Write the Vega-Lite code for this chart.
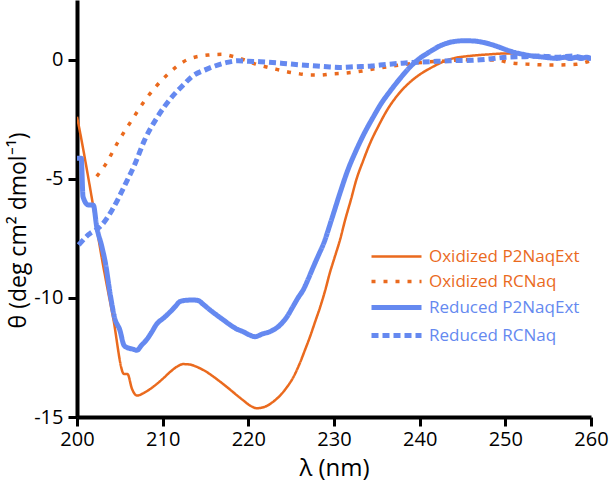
{
  "$schema": "https://vega.github.io/schema/vega-lite/v6.json",
  "width": 514,
  "height": 417,
  "autosize": {"type": "none"},
  "padding": {"left": 77, "top": 0, "right": 18, "bottom": 65},
  "background": "white",
  "config": {
    "view": {"stroke": null},
    "font": "Open Sans",
    "axis": {
      "grid": false,
      "domainColor": "black",
      "domainWidth": 4,
      "tickColor": "black",
      "tickWidth": 3,
      "tickSize": 9,
      "labelColor": "black",
      "labelFontSize": 20,
      "labelFont": "Open Sans",
      "labelFlush": false,
      "titleFont": "Open Sans",
      "titleFontSize": 22,
      "titleFontWeight": "normal",
      "titleColor": "black"
    }
  },
  "datasets": {
    "cd": [
      {"s": "Oxidized P2NaqExt", "x": 200, "y": -2.4},
      {"s": "Oxidized P2NaqExt", "x": 200.15, "y": -2.67},
      {"s": "Oxidized P2NaqExt", "x": 201.5, "y": -5.33},
      {"s": "Oxidized P2NaqExt", "x": 202.9, "y": -8.34},
      {"s": "Oxidized P2NaqExt", "x": 204.2, "y": -10.8},
      {"s": "Oxidized P2NaqExt", "x": 205.5, "y": -13.2},
      {"s": "Oxidized P2NaqExt", "x": 205.9, "y": -13.2},
      {"s": "Oxidized P2NaqExt", "x": 206.4, "y": -13.8},
      {"s": "Oxidized P2NaqExt", "x": 207.0, "y": -14.1},
      {"s": "Oxidized P2NaqExt", "x": 208.0, "y": -13.95},
      {"s": "Oxidized P2NaqExt", "x": 208.9, "y": -13.73},
      {"s": "Oxidized P2NaqExt", "x": 210.0, "y": -13.4},
      {"s": "Oxidized P2NaqExt", "x": 210.9, "y": -13.1},
      {"s": "Oxidized P2NaqExt", "x": 211.7, "y": -12.88},
      {"s": "Oxidized P2NaqExt", "x": 212.4, "y": -12.78},
      {"s": "Oxidized P2NaqExt", "x": 213.2, "y": -12.8},
      {"s": "Oxidized P2NaqExt", "x": 214.0, "y": -12.9},
      {"s": "Oxidized P2NaqExt", "x": 215.0, "y": -13.08},
      {"s": "Oxidized P2NaqExt", "x": 215.9, "y": -13.3},
      {"s": "Oxidized P2NaqExt", "x": 217.0, "y": -13.6},
      {"s": "Oxidized P2NaqExt", "x": 217.9, "y": -13.86},
      {"s": "Oxidized P2NaqExt", "x": 218.7, "y": -14.1},
      {"s": "Oxidized P2NaqExt", "x": 219.4, "y": -14.3},
      {"s": "Oxidized P2NaqExt", "x": 220.2, "y": -14.52},
      {"s": "Oxidized P2NaqExt", "x": 221.0, "y": -14.63},
      {"s": "Oxidized P2NaqExt", "x": 222.0, "y": -14.56},
      {"s": "Oxidized P2NaqExt", "x": 222.9, "y": -14.36},
      {"s": "Oxidized P2NaqExt", "x": 223.7, "y": -14.1},
      {"s": "Oxidized P2NaqExt", "x": 224.5, "y": -13.75},
      {"s": "Oxidized P2NaqExt", "x": 225.3, "y": -13.3},
      {"s": "Oxidized P2NaqExt", "x": 226.0, "y": -12.75},
      {"s": "Oxidized P2NaqExt", "x": 226.6, "y": -12.2},
      {"s": "Oxidized P2NaqExt", "x": 227.2, "y": -11.63},
      {"s": "Oxidized P2NaqExt", "x": 227.8, "y": -11.0},
      {"s": "Oxidized P2NaqExt", "x": 228.4, "y": -10.37},
      {"s": "Oxidized P2NaqExt", "x": 229.0, "y": -9.65},
      {"s": "Oxidized P2NaqExt", "x": 229.5, "y": -8.97},
      {"s": "Oxidized P2NaqExt", "x": 230.1, "y": -8.27},
      {"s": "Oxidized P2NaqExt", "x": 230.7, "y": -7.57},
      {"s": "Oxidized P2NaqExt", "x": 231.3, "y": -6.73},
      {"s": "Oxidized P2NaqExt", "x": 232.0, "y": -5.85},
      {"s": "Oxidized P2NaqExt", "x": 232.6, "y": -5.05},
      {"s": "Oxidized P2NaqExt", "x": 233.4, "y": -4.25},
      {"s": "Oxidized P2NaqExt", "x": 234.2, "y": -3.52},
      {"s": "Oxidized P2NaqExt", "x": 235.2, "y": -2.78},
      {"s": "Oxidized P2NaqExt", "x": 236.2, "y": -2.12},
      {"s": "Oxidized P2NaqExt", "x": 237.3, "y": -1.55},
      {"s": "Oxidized P2NaqExt", "x": 238.5, "y": -1.07},
      {"s": "Oxidized P2NaqExt", "x": 239.8, "y": -0.68},
      {"s": "Oxidized P2NaqExt", "x": 241.2, "y": -0.37},
      {"s": "Oxidized P2NaqExt", "x": 242.5, "y": -0.13},
      {"s": "Oxidized P2NaqExt", "x": 243.9, "y": 0.05},
      {"s": "Oxidized P2NaqExt", "x": 245.5, "y": 0.14},
      {"s": "Oxidized P2NaqExt", "x": 247.0, "y": 0.19},
      {"s": "Oxidized P2NaqExt", "x": 248.6, "y": 0.23},
      {"s": "Oxidized P2NaqExt", "x": 250.2, "y": 0.26},
      {"s": "Oxidized P2NaqExt", "x": 251.8, "y": 0.22},
      {"s": "Oxidized P2NaqExt", "x": 253.3, "y": 0.15},
      {"s": "Oxidized P2NaqExt", "x": 255.6, "y": 0.09},
      {"s": "Oxidized P2NaqExt", "x": 257.9, "y": 0.05},
      {"s": "Oxidized P2NaqExt", "x": 260, "y": 0.05},

      {"s": "Oxidized RCNaq", "x": 202.3, "y": -4.9},
      {"s": "Oxidized RCNaq", "x": 203.3, "y": -4.42},
      {"s": "Oxidized RCNaq", "x": 204.8, "y": -3.45},
      {"s": "Oxidized RCNaq", "x": 206.4, "y": -2.54},
      {"s": "Oxidized RCNaq", "x": 208.1, "y": -1.63},
      {"s": "Oxidized RCNaq", "x": 210.3, "y": -0.72},
      {"s": "Oxidized RCNaq", "x": 212.8, "y": -0.02},
      {"s": "Oxidized RCNaq", "x": 215.3, "y": 0.19},
      {"s": "Oxidized RCNaq", "x": 216.9, "y": 0.22},
      {"s": "Oxidized RCNaq", "x": 218.3, "y": 0.12},
      {"s": "Oxidized RCNaq", "x": 219.6, "y": -0.02},
      {"s": "Oxidized RCNaq", "x": 220.6, "y": -0.16},
      {"s": "Oxidized RCNaq", "x": 222.0, "y": -0.3},
      {"s": "Oxidized RCNaq", "x": 223.3, "y": -0.41},
      {"s": "Oxidized RCNaq", "x": 224.5, "y": -0.51},
      {"s": "Oxidized RCNaq", "x": 226.0, "y": -0.6},
      {"s": "Oxidized RCNaq", "x": 227.2, "y": -0.65},
      {"s": "Oxidized RCNaq", "x": 228.4, "y": -0.65},
      {"s": "Oxidized RCNaq", "x": 229.7, "y": -0.6},
      {"s": "Oxidized RCNaq", "x": 231.5, "y": -0.56},
      {"s": "Oxidized RCNaq", "x": 233.3, "y": -0.48},
      {"s": "Oxidized RCNaq", "x": 235.0, "y": -0.37},
      {"s": "Oxidized RCNaq", "x": 237.7, "y": -0.23},
      {"s": "Oxidized RCNaq", "x": 241.2, "y": -0.09},
      {"s": "Oxidized RCNaq", "x": 243.5, "y": -0.05},
      {"s": "Oxidized RCNaq", "x": 245.1, "y": 0.0},
      {"s": "Oxidized RCNaq", "x": 246.2, "y": -0.02},
      {"s": "Oxidized RCNaq", "x": 249.0, "y": -0.02},
      {"s": "Oxidized RCNaq", "x": 250.5, "y": -0.13},
      {"s": "Oxidized RCNaq", "x": 252.9, "y": -0.2},
      {"s": "Oxidized RCNaq", "x": 255.6, "y": -0.23},
      {"s": "Oxidized RCNaq", "x": 258.3, "y": -0.2},
      {"s": "Oxidized RCNaq", "x": 259.6, "y": -0.09},
      {"s": "Oxidized RCNaq", "x": 260, "y": -0.05},

      {"s": "Reduced P2NaqExt", "x": 200.0, "y": -4.14},
      {"s": "Reduced P2NaqExt", "x": 200.5, "y": -4.14},
      {"s": "Reduced P2NaqExt", "x": 200.7, "y": -5.75},
      {"s": "Reduced P2NaqExt", "x": 201.3, "y": -6.1},
      {"s": "Reduced P2NaqExt", "x": 201.9, "y": -6.1},
      {"s": "Reduced P2NaqExt", "x": 202.3, "y": -7.01},
      {"s": "Reduced P2NaqExt", "x": 202.9, "y": -7.85},
      {"s": "Reduced P2NaqExt", "x": 203.3, "y": -8.5},
      {"s": "Reduced P2NaqExt", "x": 203.9, "y": -9.9},
      {"s": "Reduced P2NaqExt", "x": 204.4, "y": -10.85},
      {"s": "Reduced P2NaqExt", "x": 205.0, "y": -11.35},
      {"s": "Reduced P2NaqExt", "x": 205.5, "y": -12.0},
      {"s": "Reduced P2NaqExt", "x": 205.95, "y": -12.1},
      {"s": "Reduced P2NaqExt", "x": 206.5, "y": -12.15},
      {"s": "Reduced P2NaqExt", "x": 207.0, "y": -12.2},
      {"s": "Reduced P2NaqExt", "x": 207.5, "y": -12.0},
      {"s": "Reduced P2NaqExt", "x": 208.1, "y": -11.77},
      {"s": "Reduced P2NaqExt", "x": 208.7, "y": -11.45},
      {"s": "Reduced P2NaqExt", "x": 209.3, "y": -11.1},
      {"s": "Reduced P2NaqExt", "x": 210.1, "y": -10.85},
      {"s": "Reduced P2NaqExt", "x": 210.9, "y": -10.58},
      {"s": "Reduced P2NaqExt", "x": 211.5, "y": -10.35},
      {"s": "Reduced P2NaqExt", "x": 212.0, "y": -10.16},
      {"s": "Reduced P2NaqExt", "x": 212.8, "y": -10.1},
      {"s": "Reduced P2NaqExt", "x": 213.6, "y": -10.09},
      {"s": "Reduced P2NaqExt", "x": 214.2, "y": -10.12},
      {"s": "Reduced P2NaqExt", "x": 214.7, "y": -10.26},
      {"s": "Reduced P2NaqExt", "x": 215.5, "y": -10.5},
      {"s": "Reduced P2NaqExt", "x": 216.3, "y": -10.72},
      {"s": "Reduced P2NaqExt", "x": 217.1, "y": -10.93},
      {"s": "Reduced P2NaqExt", "x": 217.9, "y": -11.14},
      {"s": "Reduced P2NaqExt", "x": 218.6, "y": -11.3},
      {"s": "Reduced P2NaqExt", "x": 219.4, "y": -11.42},
      {"s": "Reduced P2NaqExt", "x": 220.1, "y": -11.55},
      {"s": "Reduced P2NaqExt", "x": 220.8, "y": -11.63},
      {"s": "Reduced P2NaqExt", "x": 221.6, "y": -11.52},
      {"s": "Reduced P2NaqExt", "x": 222.5, "y": -11.42},
      {"s": "Reduced P2NaqExt", "x": 223.7, "y": -11.14},
      {"s": "Reduced P2NaqExt", "x": 224.5, "y": -10.8},
      {"s": "Reduced P2NaqExt", "x": 225.2, "y": -10.37},
      {"s": "Reduced P2NaqExt", "x": 225.8, "y": -10.0},
      {"s": "Reduced P2NaqExt", "x": 226.4, "y": -9.67},
      {"s": "Reduced P2NaqExt", "x": 227.0, "y": -9.2},
      {"s": "Reduced P2NaqExt", "x": 227.6, "y": -8.69},
      {"s": "Reduced P2NaqExt", "x": 228.2, "y": -8.2},
      {"s": "Reduced P2NaqExt", "x": 228.8, "y": -7.71},
      {"s": "Reduced P2NaqExt", "x": 229.7, "y": -6.73},
      {"s": "Reduced P2NaqExt", "x": 230.7, "y": -5.6},
      {"s": "Reduced P2NaqExt", "x": 231.6, "y": -4.65},
      {"s": "Reduced P2NaqExt", "x": 232.6, "y": -3.8},
      {"s": "Reduced P2NaqExt", "x": 233.6, "y": -3.05},
      {"s": "Reduced P2NaqExt", "x": 234.6, "y": -2.4},
      {"s": "Reduced P2NaqExt", "x": 235.5, "y": -1.85},
      {"s": "Reduced P2NaqExt", "x": 236.5, "y": -1.35},
      {"s": "Reduced P2NaqExt", "x": 237.7, "y": -0.8},
      {"s": "Reduced P2NaqExt", "x": 238.9, "y": -0.3},
      {"s": "Reduced P2NaqExt", "x": 240.0, "y": 0.05},
      {"s": "Reduced P2NaqExt", "x": 241.2, "y": 0.33},
      {"s": "Reduced P2NaqExt", "x": 242.4, "y": 0.58},
      {"s": "Reduced P2NaqExt", "x": 243.9, "y": 0.75},
      {"s": "Reduced P2NaqExt", "x": 245.2, "y": 0.79},
      {"s": "Reduced P2NaqExt", "x": 246.3, "y": 0.78},
      {"s": "Reduced P2NaqExt", "x": 247.3, "y": 0.73},
      {"s": "Reduced P2NaqExt", "x": 248.2, "y": 0.65},
      {"s": "Reduced P2NaqExt", "x": 249.2, "y": 0.53},
      {"s": "Reduced P2NaqExt", "x": 250.2, "y": 0.4},
      {"s": "Reduced P2NaqExt", "x": 251.1, "y": 0.3},
      {"s": "Reduced P2NaqExt", "x": 252.1, "y": 0.22},
      {"s": "Reduced P2NaqExt", "x": 253.0, "y": 0.16},
      {"s": "Reduced P2NaqExt", "x": 254.0, "y": 0.12},
      {"s": "Reduced P2NaqExt", "x": 255.0, "y": 0.08},
      {"s": "Reduced P2NaqExt", "x": 256.0, "y": 0.05},
      {"s": "Reduced P2NaqExt", "x": 257.0, "y": 0.1},
      {"s": "Reduced P2NaqExt", "x": 257.5, "y": 0.04},
      {"s": "Reduced P2NaqExt", "x": 258.3, "y": 0.1},
      {"s": "Reduced P2NaqExt", "x": 258.8, "y": 0.04},
      {"s": "Reduced P2NaqExt", "x": 259.5, "y": 0.1},
      {"s": "Reduced P2NaqExt", "x": 260.0, "y": 0.03},

      {"s": "Reduced RCNaq", "x": 200.2, "y": -7.78},
      {"s": "Reduced RCNaq", "x": 201.3, "y": -7.36},
      {"s": "Reduced RCNaq", "x": 202.9, "y": -6.94},
      {"s": "Reduced RCNaq", "x": 204.1, "y": -6.31},
      {"s": "Reduced RCNaq", "x": 205.6, "y": -5.26},
      {"s": "Reduced RCNaq", "x": 206.8, "y": -4.35},
      {"s": "Reduced RCNaq", "x": 207.9, "y": -3.37},
      {"s": "Reduced RCNaq", "x": 209.3, "y": -2.46},
      {"s": "Reduced RCNaq", "x": 211.1, "y": -1.56},
      {"s": "Reduced RCNaq", "x": 212.4, "y": -1.07},
      {"s": "Reduced RCNaq", "x": 213.4, "y": -0.72},
      {"s": "Reduced RCNaq", "x": 215.1, "y": -0.41},
      {"s": "Reduced RCNaq", "x": 216.1, "y": -0.27},
      {"s": "Reduced RCNaq", "x": 217.5, "y": -0.12},
      {"s": "Reduced RCNaq", "x": 218.8, "y": -0.05},
      {"s": "Reduced RCNaq", "x": 220.0, "y": -0.07},
      {"s": "Reduced RCNaq", "x": 221.4, "y": -0.09},
      {"s": "Reduced RCNaq", "x": 224.1, "y": -0.16},
      {"s": "Reduced RCNaq", "x": 226.0, "y": -0.22},
      {"s": "Reduced RCNaq", "x": 228.0, "y": -0.27},
      {"s": "Reduced RCNaq", "x": 229.5, "y": -0.31},
      {"s": "Reduced RCNaq", "x": 230.7, "y": -0.33},
      {"s": "Reduced RCNaq", "x": 232.5, "y": -0.3},
      {"s": "Reduced RCNaq", "x": 234.4, "y": -0.27},
      {"s": "Reduced RCNaq", "x": 235.4, "y": -0.23},
      {"s": "Reduced RCNaq", "x": 238.0, "y": -0.15},
      {"s": "Reduced RCNaq", "x": 241.2, "y": -0.09},
      {"s": "Reduced RCNaq", "x": 243.5, "y": -0.05},
      {"s": "Reduced RCNaq", "x": 246.2, "y": -0.03},
      {"s": "Reduced RCNaq", "x": 248.0, "y": 0.02},
      {"s": "Reduced RCNaq", "x": 250.2, "y": 0.1},
      {"s": "Reduced RCNaq", "x": 252.0, "y": 0.12},
      {"s": "Reduced RCNaq", "x": 254.0, "y": 0.15},
      {"s": "Reduced RCNaq", "x": 256.0, "y": 0.1},
      {"s": "Reduced RCNaq", "x": 257.9, "y": 0.15},
      {"s": "Reduced RCNaq", "x": 259.0, "y": 0.08},
      {"s": "Reduced RCNaq", "x": 260.0, "y": 0.05}
    ]
  },
  "data": {"name": "cd"},
  "mark": {"type": "line", "clip": true, "strokeCap": "butt", "strokeJoin": "round", "interpolate": "monotone"},
  "encoding": {
    "x": {
      "field": "x", "type": "quantitative",
      "scale": {"domain": [200, 260], "nice": false, "zero": false},
      "axis": {"values": [200, 210, 220, 230, 240, 250, 260], "title": "λ (nm)", "titleFontSize": 24, "labelPadding": 3, "titlePadding": 7}
    },
    "y": {
      "field": "y", "type": "quantitative",
      "scale": {"domain": [-15, 2.5], "nice": false, "zero": false},
      "axis": {"values": [-15, -10, -5, 0], "labelExpr": "toString(datum.value)", "title": "θ (deg cm² dmol⁻¹)", "titleFontSize": 23, "labelPadding": 5, "titleX": -47, "titleY": 230}
    },
    "color": {
      "field": "s", "type": "nominal",
      "scale": {
        "domain": ["Oxidized P2NaqExt", "Oxidized RCNaq", "Reduced P2NaqExt", "Reduced RCNaq"],
        "range": ["#EA6A1E", "#EA6A1E", "#6589F0", "#6589F0"]
      },
      "legend": {
        "title": null,
        "orient": "none",
        "legendX": 311,
        "legendY": 248,
        "symbolType": "M-5,0H5",
        "symbolSize": 100,
        "symbolFillColor": "transparent",
        "labelOffset": 24,
        "labelFontSize": 17,
        "labelFont": "Open Sans",
        "rowPadding": 7,
        "encode": {
          "labels": {"update": {"fill": {"scale": "color", "field": "value"}}},
          "symbols": {"update": {"strokeWidth": {"scale": "strokeWidth", "field": "value"}}}
        }
      }
    },
    "strokeDash": {
      "field": "s", "type": "nominal",
      "scale": {
        "domain": ["Oxidized P2NaqExt", "Oxidized RCNaq", "Reduced P2NaqExt", "Reduced RCNaq"],
        "range": [[1, 0], [4, 8], [1, 0], [7, 4]]
      }
    },
    "strokeWidth": {
      "field": "s", "type": "nominal",
      "scale": {
        "type": "ordinal",
        "domain": ["Oxidized P2NaqExt", "Oxidized RCNaq", "Reduced P2NaqExt", "Reduced RCNaq"],
        "range": [2.5, 3.5, 5, 5]
      },
      "legend": null
    }
  }
}
